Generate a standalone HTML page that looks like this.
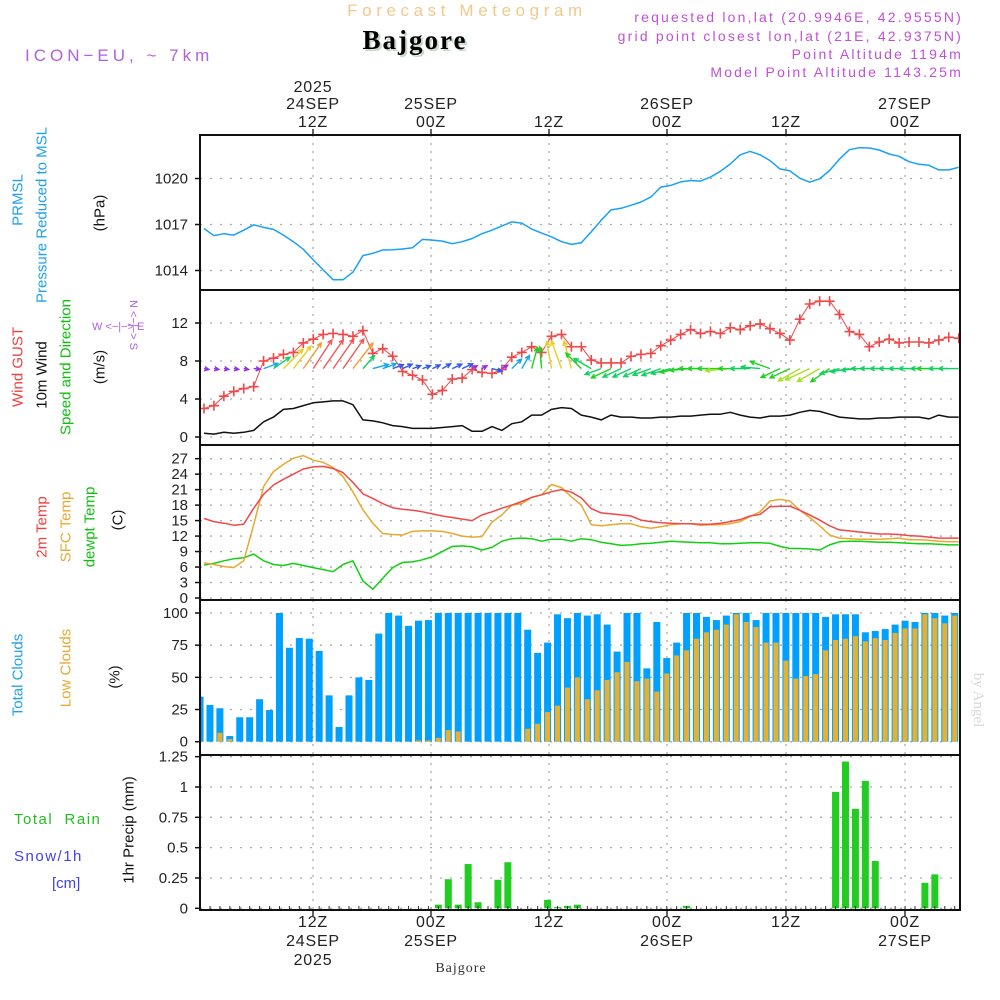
<!DOCTYPE html>
<html><head><meta charset="utf-8">
<style>
html,body{margin:0;padding:0;background:#fff;}
svg{display:block;font-family:"Liberation Sans",sans-serif;}
.tk{font-size:15px;fill:#222;}
.ax{font-size:16px;fill:#222;letter-spacing:0.8px;}
</style></head>
<body>
<svg id="chart" width="1000" height="1000" viewBox="0 0 1000 1000" xmlns="http://www.w3.org/2000/svg">
<rect x="0" y="0" width="1000" height="1000" fill="#fff"/>
<!-- header -->
<text x="467" y="16" text-anchor="middle" font-size="17" fill="#f2c98c" letter-spacing="4.6">Forecast Meteogram</text>
<text x="415" y="49" text-anchor="middle" font-size="27" font-weight="bold" font-family="Liberation Serif,serif" fill="#c8d8c8" letter-spacing="2" transform="translate(2,2)">Bajgore</text>
<text x="415" y="49" text-anchor="middle" font-size="27" font-weight="bold" font-family="Liberation Serif,serif" fill="#000" letter-spacing="2">Bajgore</text>
<text x="25" y="61" font-size="17" fill="#b060e0" letter-spacing="4">ICON−EU, ~ 7km</text>
<g font-size="14" fill="#c050d8" text-anchor="end" letter-spacing="2.2">
<text x="963" y="22">requested lon,lat (20.9946E, 42.9555N)</text>
<text x="963" y="41">grid point closest lon,lat (21E, 42.9375N)</text>
<text x="963" y="59">Point Altitude 1194m</text>
<text x="963" y="77">Model Point Altitude 1143.25m</text>
</g>
<!-- top time axis -->
<g class="ax" text-anchor="middle">
<text x="313" y="92">2025</text><text x="313" y="109">24SEP</text><text x="313" y="127">12Z</text>
<text x="431" y="109">25SEP</text><text x="431" y="127">00Z</text>
<text x="549" y="127">12Z</text>
<text x="667" y="109">26SEP</text><text x="667" y="127">00Z</text>
<text x="786" y="127">12Z</text>
<text x="905" y="109">27SEP</text><text x="905" y="127">00Z</text>
</g>
<!-- bottom time axis -->
<g class="ax" text-anchor="middle">
<text x="313" y="927">12Z</text><text x="313" y="946">24SEP</text><text x="313" y="965">2025</text>
<text x="431" y="927">00Z</text><text x="431" y="946">25SEP</text>
<text x="549" y="927">12Z</text>
<text x="667" y="927">00Z</text><text x="667" y="946">26SEP</text>
<text x="786" y="927">12Z</text>
<text x="905" y="927">00Z</text><text x="905" y="946">27SEP</text>
</g>
<text x="461" y="972" text-anchor="middle" font-size="14" font-family="Liberation Serif,serif" fill="#333" letter-spacing="1">Bajgore</text>
<text transform="translate(974,700) rotate(90)" text-anchor="middle" font-size="15" font-family="Liberation Serif,serif" fill="#d8d8d8">by Angel</text>

<!-- left labels -->
<g font-size="15" text-anchor="middle" dominant-baseline="central">
<text transform="translate(18,200) rotate(-90)" fill="#20a0f0">PRMSL</text>
<text transform="translate(42,215) rotate(-90)" fill="#20a0f0">Pressure Reduced to MSL</text>
<text transform="translate(100,213) rotate(-90)" fill="#111">(hPa)</text>
<text transform="translate(18,367) rotate(-90)" fill="#f04040">Wind GUST</text>
<text transform="translate(42,375) rotate(-90)" fill="#111">10m Wind</text>
<text transform="translate(66,367) rotate(-90)" fill="#10c010">Speed and Direction</text>
<text transform="translate(100,367) rotate(-90)" fill="#111">(m/s)</text>
<text transform="translate(42,527) rotate(-90)" fill="#f04040">2m Temp</text>
<text transform="translate(66,527) rotate(-90)" fill="#e8a830">SFC Temp</text>
<text transform="translate(90,527) rotate(-90)" fill="#10c010">dewpt Temp</text>
<text transform="translate(118,520) rotate(-90)" fill="#111">(C)</text>
<text transform="translate(18,675) rotate(-90)" fill="#20a0f0">Total Clouds</text>
<text transform="translate(66,668) rotate(-90)" fill="#e8a830">Low Clouds</text>
<text transform="translate(115,677) rotate(-90)" fill="#111">(%)</text>
<text transform="translate(129,830) rotate(-90)" fill="#111">1hr Precip (mm)</text>
</g>
<g font-size="11" fill="#b060e0">
<text x="92" y="330">W &lt;−|−&gt; E</text>
<text transform="translate(133,325) rotate(90)" text-anchor="middle" dominant-baseline="central">N &lt;−|−&gt; S</text>
</g>
<g font-size="15">
<text x="14" y="824" fill="#20c020" letter-spacing="1.5">Total&#160; Rain</text>
<text x="14" y="861" fill="#4040f0" letter-spacing="1.5">Snow/1h</text>
<text x="52" y="888" fill="#4040f0">[cm]</text>
</g>
<g id="plots"></g>
</svg>
<script>
// ---- data (hourly) ----
const pressure = [1016.74,1016.27,1016.40,1016.31,1016.63,1016.98,1016.81,1016.68,1016.31,1015.88,1015.38,1014.69,1014.04,1013.40,1013.40,1013.89,1014.97,1015.12,1015.34,1015.36,1015.40,1015.49,1016.03,1015.98,1015.92,1015.75,1015.88,1016.09,1016.40,1016.63,1016.91,1017.17,1017.09,1016.70,1016.44,1016.20,1015.88,1015.70,1015.81,1016.53,1017.28,1017.95,1018.06,1018.25,1018.47,1018.79,1019.44,1019.55,1019.78,1019.87,1019.83,1020.09,1020.47,1020.95,1021.55,1021.77,1021.55,1021.17,1020.63,1020.50,1020.02,1019.76,1019.98,1020.52,1021.27,1021.88,1022.01,1021.99,1021.86,1021.60,1021.45,1021.10,1020.93,1020.86,1020.56,1020.56,1020.73];
const gust = [3.0,3.3,4.3,4.8,5.1,5.3,8.0,8.3,8.7,8.9,9.9,10.3,10.8,10.9,10.8,10.6,11.2,8.8,9.3,8.5,6.9,6.5,6.0,4.5,4.9,6.1,6.2,7.1,6.8,6.7,7.1,8.4,8.9,9.5,8.9,10.6,10.8,9.5,9.5,8.1,7.8,7.8,7.8,8.5,8.7,8.8,9.6,10.2,10.8,11.3,10.9,11.1,10.9,11.5,11.3,11.7,11.9,11.4,10.9,10.2,12.4,14.0,14.3,14.3,12.9,11.1,10.8,9.5,10.0,10.3,9.9,10.0,10.0,9.9,10.2,10.5,10.4];
const windSpeed = [0.4,0.3,0.5,0.4,0.5,0.7,1.6,2.1,2.9,3.0,3.3,3.6,3.7,3.8,3.8,3.4,1.8,1.7,1.5,1.2,1.1,0.9,0.9,0.9,1.0,1.1,1.2,0.6,0.6,1.1,0.7,1.4,1.6,2.3,2.3,2.9,3.1,3.0,2.3,2.1,1.8,2.3,2.1,2.1,2.0,2.0,2.1,2.1,2.2,2.2,2.3,2.4,2.4,2.6,2.3,2.1,2.0,2.2,2.2,2.3,2.6,2.8,2.7,2.4,2.1,2.0,1.9,1.9,2.0,2.0,2.1,2.1,2.1,1.9,2.3,2.1,2.1];
const windDir = [-10,-10,-10,-10,-10,-5,20,35,45,52,55,57,55,55,55,52,48,15,20,20,25,20,20,25,30,25,25,30,30,-15,30,45,60,75,95,100,110,105,135,150,200,205,205,205,205,200,200,195,190,185,180,180,180,185,180,180,175,160,205,205,210,205,210,215,195,190,185,180,180,180,180,180,180,180,180,180,180];
const temp2m = [15.4,14.8,14.5,14.1,14.3,17.4,20.1,21.9,23.0,24.0,25.0,25.4,25.5,25.1,24.3,22.4,20.2,19.3,18.3,17.5,17.2,17.0,16.7,16.3,15.9,15.6,15.3,15.0,16.1,16.7,17.4,18.0,18.7,19.5,20.0,20.6,21.0,20.5,19.4,17.3,16.5,16.3,16.1,15.9,15.1,14.8,14.6,14.5,14.4,14.4,14.3,14.3,14.5,14.8,15.2,15.9,16.2,17.7,17.8,17.8,17.0,16.1,15.1,14.0,13.2,13.0,12.8,12.6,12.4,12.4,12.3,12.1,12.0,11.8,11.6,11.6,11.6];
const sfcTemp = [6.8,6.5,6.1,5.9,7.2,14.2,21.6,24.5,25.9,27.1,27.6,26.7,26.3,25.3,23.5,20.6,17.1,14.5,12.5,12.3,12.2,12.9,13.0,13.0,12.9,12.5,12.0,11.8,11.9,14.7,16.1,18.0,18.3,19.5,20.0,22.0,21.4,19.6,18.0,14.2,14.0,14.2,14.4,14.4,13.8,13.5,13.8,14.2,14.4,14.4,14.1,14.2,14.2,14.4,14.8,15.8,16.7,18.8,19.1,18.8,17.0,15.6,14.0,12.2,11.6,11.5,11.4,11.4,11.4,11.5,11.6,11.3,11.3,11.2,11.0,10.9,10.9];
const dewpt = [6.4,6.7,7.2,7.6,7.8,8.5,7.2,6.5,6.3,6.7,6.3,5.9,5.5,5.1,6.5,7.2,3.3,1.7,3.8,5.9,6.9,7.0,7.4,8.0,9.0,10.0,10.1,9.9,9.3,9.8,11.0,11.5,11.6,11.5,11.0,11.4,11.4,11.0,11.5,11.3,10.8,10.5,10.2,10.3,10.5,10.6,10.8,11.0,10.9,10.8,10.7,10.7,10.5,10.5,10.6,10.7,10.7,10.6,10.0,9.6,9.6,9.5,9.3,10.3,10.9,11.0,11.0,10.9,10.8,10.8,10.7,10.6,10.5,10.5,10.4,10.3,10.3];
const totalClouds = [35,28.5,26,4.4,19,19,33,24.6,100,73,80.6,80,70.5,36,11.4,36,50,48,84,100,98,90,94,94.5,100,100,100,100,100,100,100,100,100,87,69,77,99,96,100,98,99,91,70,100,100,57,93,65,77,100,100,97,94.5,98,100,100,94.5,100,100,100,100,100,100,97,99,99,99,85,86,87.5,91,94,93,100,100,98,100];
const lowClouds = [0,0,7,2,0,0,0,0,0,0,0,0,0,0,0,0,0,0,0,0,0,0,1,1,3,9,8,0,0,0,0,0,0,10,14,23,28,42,50,33,40,48,54,62,47,49,39,53,67,71,80,85,87,91,99,93,89,77,77,63,49,51,52.5,71,79,80,82,78,80.5,79,84.5,88,88,99,96,92,98];
const precip = [0,0,0,0,0,0,0,0,0,0,0,0,0,0,0,0,0,0,0,0,0,0,0,0,0.03,0.24,0.03,0.365,0.05,0,0.235,0.38,0,0,0,0.07,0.01,0.02,0.03,0,0,0,0,0,0,0,0,0,0,0.02,0,0,0,0,0,0,0,0,0,0,0,0,0,0,0.96,1.21,0.82,1.05,0.39,0,0,0,0,0.21,0.28,0,0];
const pressTicks = [1014,1017,1020];
const windTicks = [0,4,8,12];
const tempTicks = [0,3,6,9,12,15,18,21,24,27];
const cloudTicks = [0,25,50,75,100];
const precipTicks = [0,0.25,0.5,0.75,1,1.25];
const timeGrid = [313,431,549,667,786,905];

// ---- scales ----
const X0=200, X1=960;
const xAt = i => 204 + 9.93*i;
const yP = v => 270.5 - (v-1014)*15.33;
const yW = v => 437 - v*9.5;
const yT = v => 598 - v*5.16;
const yC = v => 741.7 - v*1.287;
const yR = v => 908.3 - v*121.3;
const panels = [
 {top:135,bot:290,ticks:pressTicks,ys:yP,fmt:v=>String(v),name:'pressure'},
 {top:290,bot:445,ticks:windTicks,ys:yW,fmt:v=>String(v),name:'wind'},
 {top:445,bot:600,ticks:tempTicks,ys:yT,fmt:v=>String(v),name:'temperature'},
 {top:600,bot:755,ticks:cloudTicks,ys:yC,fmt:v=>String(v),name:'clouds'},
 {top:755,bot:910,ticks:precipTicks,ys:yR,fmt:v=>String(v),name:'precip'}];

const NS='http://www.w3.org/2000/svg';
const root=document.getElementById('plots');
function mk(tag,attrs,parent){const e=document.createElementNS(NS,tag);for(const k in attrs)e.setAttribute(k,attrs[k]);(parent||root).appendChild(e);return e;}

panels.forEach(p=>{
  const g=mk('g',{});
  
  
  p.ticks.forEach(t=>{
    const y=p.ys(t);
    const gl=mk('line',{x1:X0,x2:X1,y1:y,y2:y,stroke:'#aaa','stroke-width':1.3,'stroke-dasharray':'2 8'},g);
    
    
    mk('line',{x1:X0-5,x2:X0,y1:y,y2:y,stroke:'#111','stroke-width':1.5},g);
    const tl=mk('text',{x:188,y:y+5,'text-anchor':'end',class:'tk'},g);
    tl.textContent=p.fmt(t);
    
    
  });
  timeGrid.forEach(x=>{
    const vl=mk('line',{x1:x,x2:x,y1:p.top,y2:p.bot,stroke:'#aaa','stroke-width':1.3,'stroke-dasharray':'2 6'},g);
    
    
  });
});

const clip=mk('clipPath',{id:'cp'});mk('rect',{x:X0,y:130,width:X1-X0,height:785},clip);
const plot=mk('g',{'clip-path':'url(#cp)'});

function line(arr,ys,color,name,w){
  const d=arr.map((v,i)=>(i?'L':'M')+xAt(i).toFixed(1)+','+ys(v).toFixed(1)).join('');
  const el=mk('path',{d:d,fill:'none',stroke:color,'stroke-width':w||1.5,'stroke-linejoin':'round'},plot);
  
  
  return el;
}
line(pressure,yP,'#18a0f8','pressure-line');
line(windSpeed,yW,'#111','wind-speed-line');
line(gust,yW,'#f04848','gust-line',1);
gust.forEach((v,i)=>{
  const x=xAt(i),y=yW(v);
  const m=mk('path',{d:`M${x-5},${y}H${x+5}M${x},${y-5}V${y+5}`,stroke:'#f04848','stroke-width':1.6},plot);
  
  
});
function spdColor(s){
  if(s<0.8)return '#9030e0'; if(s<1.3)return '#3058f0'; if(s<1.8)return '#10a8f0';
  if(s<2.2)return '#10d060'; if(s<2.6)return '#20d020'; if(s<2.9)return '#a8e020';
  if(s<3.2)return '#e8d020'; if(s<3.6)return '#f0a030'; return '#f05858';
}
windSpeed.forEach((s,i)=>{
  const a=windDir[i]*Math.PI/180, L=Math.max(s*9.5,5);
  const x=xAt(i), y=yW(7.2);
  const tx=x+L*Math.cos(a), ty=y-L*Math.sin(a);
  const h=5, b1=a+Math.PI-0.45, b2=a+Math.PI+0.45;
  const d=`M${x},${y}L${tx},${ty}M${tx+h*Math.cos(b1)},${ty-h*Math.sin(b1)}L${tx},${ty}L${tx+h*Math.cos(b2)},${ty-h*Math.sin(b2)}`;
  const ar=mk('path',{d:d,fill:'none',stroke:spdColor(s),'stroke-width':1.4},plot);
  
  
});
line(dewpt,yT,'#10d010','dewpoint-line');
line(sfcTemp,yT,'#e8a830','sfc-temp-line');
line(temp2m,yT,'#f04848','temp-2m-line');

totalClouds.forEach((v,i)=>{
  const x=xAt(i-0.4);
  const r=mk('rect',{x:x-3.5,y:yC(v),width:7,height:yC(0)-yC(v),fill:'#00a0ff'},plot);
  
  
  if(lowClouds[i]>0){
    const l=mk('rect',{x:x-2.5,y:yC(lowClouds[i]),width:5,height:yC(0)-yC(lowClouds[i]),fill:'#e8b030'},plot);
    
    
  }
});
precip.forEach((v,i)=>{
  if(v<=0)return;
  const x=xAt(i-0.4);
  const r=mk('rect',{x:x-3.5,y:yR(v),width:7,height:yR(0)-yR(v),fill:'#22cc22'},plot);
  
  
});
for(let i=0;i<77;i++){mk('line',{x1:xAt(i-0.4),x2:xAt(i-0.4),y1:906,y2:909,stroke:'#333','stroke-width':1},plot);}
panels.forEach(p=>{
  const f=mk('rect',{x:X0,y:p.top,width:X1-X0,height:p.bot-p.top,fill:'none',stroke:'#111','stroke-width':2});
  
  
});
timeGrid.forEach(x=>{mk('line',{x1:x,x2:x,y1:129,y2:135,stroke:'#111','stroke-width':1.3});mk('line',{x1:x,x2:x,y1:910,y2:916,stroke:'#111','stroke-width':1.3});});
</script>
</body></html>
